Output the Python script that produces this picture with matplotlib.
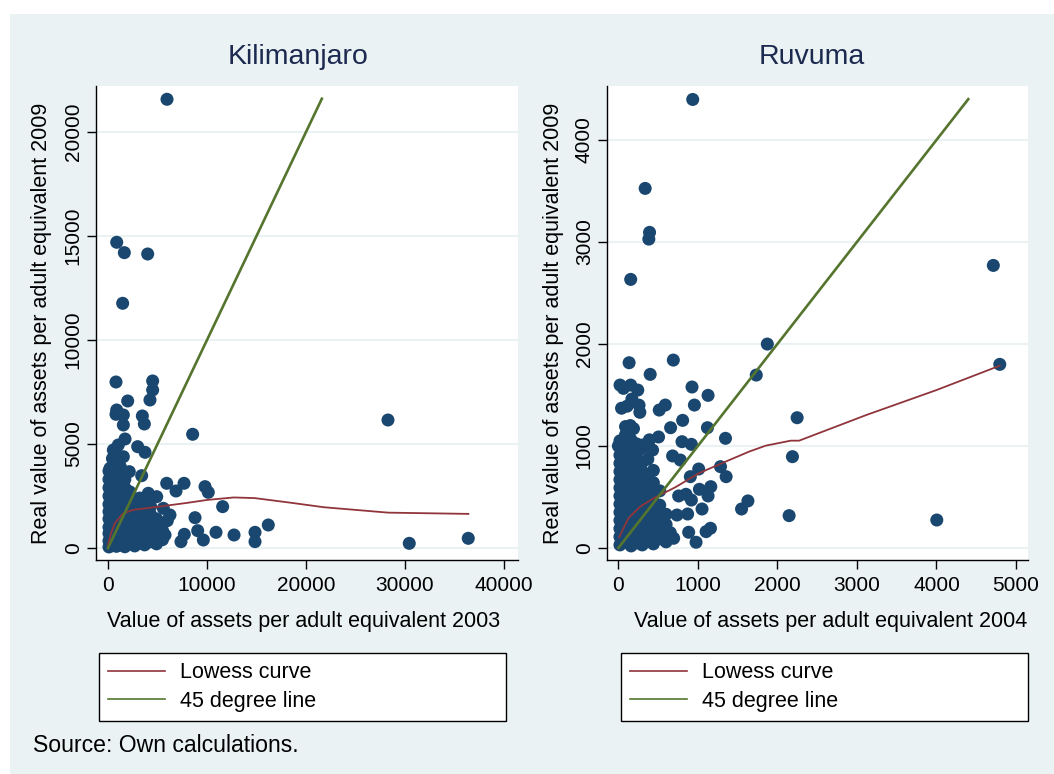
import matplotlib
matplotlib.use("Agg")
import matplotlib.pyplot as plt
from matplotlib.patches import Rectangle
from matplotlib.lines import Line2D

plt.rcParams['font.family'] = ['Liberation Sans', 'DejaVu Sans']

NAVY = '#1a476f'
MAROON = '#90353b'
GREEN = '#55752f'
BG = '#eaf2f3'

# ---------------- Kilimanjaro: assets 2003 vs 2009 ----------------
kil_x = [
    # scattered households
    5960, 880, 1650, 4010, 1480, 808, 4510, 4510, 4240, 1990, 880, 808, 1550, 1550,
    3470, 3670, 8550, 1720, 28280, 3000, 3740, 540, 1040, 1550, 200, 2150, 3400,
    5930, 7680, 6870, 9800, 10130, 4070, 4920, 11580, 5590, 6260, 5990, 8790, 9060,
    7710, 7370, 9630, 10910, 12730, 14850, 14850, 16190, 30430, 36390, 5760,
    # dense cluster near the origin
    100, 100, 100, 100, 100, 100, 100, 100, 100, 100, 100,
    450, 450, 450, 450, 450, 450, 450, 450, 450, 450, 450, 450,
    850, 850, 850, 850, 850, 850, 850, 850, 850, 850, 850, 850,
    1250, 1250, 1250, 1250, 1250, 1250, 1250, 1250, 1250, 1250,
    1700, 1700, 1700, 1700, 1700, 1700, 1700, 1700, 1700,
    2200, 2200, 2200, 2200, 2200, 2200, 2200,
    2700, 2700, 2700, 2700, 2700, 2700,
    3200, 3200, 3200, 3200, 3200, 3200,
    3700, 3700, 3700, 3700, 3700, 3700,
    4300, 4300, 4300, 4300, 4300,
    4900, 4900, 4900, 4900,
    5500, 5500,
    650, 650, 650, 650, 650, 1050, 1050, 1050, 1050, 1500, 1500, 1500, 1500,
    1950, 1950, 1950, 2450, 2450, 2450, 2950, 2950, 3450, 3450, 3450, 4000, 4600, 4600, 5200,
]
kil_y = [
    21573, 14698, 14200, 14136, 11765, 7981, 8030, 7597, 7116, 7068, 6635, 6428, 6395, 5914,
    6347, 5962, 5467, 5241, 6154, 4872, 4600, 4712, 4952, 4390, 3832, 3670, 3477,
    3110, 3110, 2740, 2950, 2677, 2630, 2467, 1988, 1907, 1587, 1314, 1458, 833,
    657, 305, 385, 754, 625, 754, 305, 1106, 224, 465, 625,
    50, 350, 700, 1000, 1400, 1750, 2100, 2500, 2900, 3300, 3700,
    120, 400, 800, 1150, 1500, 1900, 2300, 2700, 3100, 3500, 3900, 4300,
    80, 450, 850, 1250, 1600, 2000, 2400, 2800, 3200, 3600, 4100, 4500,
    150, 500, 900, 1300, 1700, 2100, 2600, 3000, 3400, 3900,
    60, 420, 780, 1200, 1650, 2050, 2500, 2900, 3300,
    200, 550, 950, 1400, 1800, 2250, 2700,
    100, 480, 900, 1300, 1750, 2200,
    250, 650, 1050, 1500, 2000, 2400,
    150, 550, 950, 1400, 1850, 2300,
    300, 700, 1100, 1600, 2000,
    200, 600, 1000, 1400,
    400, 850,
    250, 1000, 1800, 2600, 3400, 650, 1450, 2250, 3050, 250, 1000, 1850, 2700,
    800, 1600, 2400, 350, 1150, 1950, 700, 1500, 400, 1200, 2000, 900, 500, 1300, 700,
]
kil_lowess_x = [0, 300, 700, 1500, 2500, 5000, 8000, 10000, 12700, 14800, 18400, 21800, 28300, 36400]
kil_lowess_y = [150, 700, 1200, 1650, 1830, 1980, 2170, 2310, 2430, 2400, 2180, 1960, 1700, 1640]
kil_diag = [0, 21600]

# ---------------- Ruvuma: assets 2004 vs 2009 ----------------
ruv_x = [
    935, 337, 392, 383, 155, 4715, 1873, 4796, 135, 691, 400, 1734, 2248, 2189, 2147,
    4004, 1629, 1549, 1347, 1355, 1284, 1128, 926, 956, 590, 514, 808, 657, 1120, 800,
    918, 682, 779, 1010, 905, 1162, 1019, 1128, 850, 758, 918, 1052, 737, 871, 884,
    977, 1103, 1158, 653, 695,
    21, 155, 244, 63, 170, 260, 270, 40, 110, 150, 130, 190, 505, 390, 310, 430, 30, 0,
    # dense cluster near the origin
    20, 20, 20, 20, 20, 20, 20, 20, 20, 20, 20, 20, 20, 20,
    90, 90, 90, 90, 90, 90, 90, 90, 90, 90, 90, 90, 90, 90, 90,
    160, 160, 160, 160, 160, 160, 160, 160, 160, 160, 160, 160, 160, 160,
    230, 230, 230, 230, 230, 230, 230, 230, 230, 230, 230, 230, 230,
    300, 300, 300, 300, 300, 300, 300, 300, 300, 300, 300, 300,
    370, 370, 370, 370, 370, 370, 370, 370, 370, 370,
    440, 440, 440, 440, 440, 440, 440, 440, 440,
    520, 520, 520, 520, 520, 520,
    600, 600, 600, 600,
]
ruv_y = [
    4397, 3525, 3094, 3028, 2633, 2770, 1999, 1800, 1816, 1842, 1702, 1695, 1277, 895, 317,
    274, 461, 382, 1075, 699, 797, 1496, 1578, 1401, 1401, 1352, 1251, 1179, 1179, 1042,
    1016, 902, 862, 774, 699, 601, 575, 510, 526, 510, 470, 382, 323, 333, 154,
    56, 160, 193, 150, 95,
    1597, 1597, 1548, 1565, 1460, 1400, 1330, 1370, 1390, 1200, 1170, 1170, 1088, 1060, 1010, 960, 1040, 1000,
    30, 110, 190, 270, 350, 430, 510, 590, 670, 750, 830, 910, 990, 1050,
    60, 140, 220, 300, 380, 460, 540, 620, 700, 780, 860, 940, 1020, 1110, 1190,
    20, 100, 180, 260, 340, 420, 500, 580, 660, 740, 820, 900, 980, 1060,
    50, 130, 210, 290, 370, 450, 530, 610, 690, 770, 850, 930, 1020,
    30, 110, 190, 270, 350, 430, 510, 590, 670, 750, 840, 980,
    70, 150, 230, 310, 390, 470, 550, 630, 720, 870,
    40, 120, 200, 280, 360, 450, 540, 640, 760,
    90, 170, 250, 330, 420, 560,
    60, 140, 230, 330,
]
ruv_lowess_x = [9, 126, 274, 442, 716, 1010, 1347, 1642, 1853, 2168, 2273, 3116, 4000, 4796]
ruv_lowess_y = [105, 291, 405, 487, 595, 732, 846, 944, 1003, 1052, 1052, 1303, 1548, 1787]
ruv_diag = [0, 4400]

panels = [
    dict(title="Kilimanjaro", x=kil_x, y=kil_y, lx=kil_lowess_x, ly=kil_lowess_y, d=kil_diag,
         xlim=(-1212, 41414), ylim=(-577, 22212), xticks=[0, 10000, 20000, 30000, 40000],
         yticks=[0, 5000, 10000, 15000, 20000],
         xlabel="Value of assets per adult equivalent 2003", rect=(96, 422), title_x=298,
         xlab_x=0.493, leg=(99, 407)),
    dict(title="Ruvuma", x=ruv_x, y=ruv_y, lx=ruv_lowess_x, ly=ruv_lowess_y, d=ruv_diag,
         xlim=(-143, 5151), ylim=(-118, 4529), xticks=[0, 1000, 2000, 3000, 4000, 5000],
         yticks=[0, 1000, 2000, 3000, 4000],
         xlabel="Value of assets per adult equivalent 2004", rect=(607, 421), title_x=812,
         xlab_x=0.530, leg=(621, 407)),
]

W, H = 1054, 774
fig = plt.figure(figsize=(W / 100, H / 100), dpi=100, facecolor='white')
fig.patches.append(Rectangle((10 / W, 0), 1 - 10 / W, 1 - 14 / H, transform=fig.transFigure,
                             facecolor=BG, edgecolor='none', zorder=-10))

for p in panels:
    left, width = p['rect']
    ax = fig.add_axes([left / W, 1 - 560 / H, width / W, 474 / H])
    ax.set_facecolor('white')
    ax.scatter(p['x'], p['y'], s=88, color=NAVY, edgecolors='none', zorder=2)
    ax.plot(p['lx'], p['ly'], color=MAROON, lw=1.3, zorder=3)
    ax.plot(p['d'], p['d'], color=GREEN, lw=1.9, zorder=4)
    ax.set_xlim(p['xlim'])
    ax.set_ylim(p['ylim'])
    ax.set_xticks(p['xticks'])
    ax.set_yticks(p['yticks'])
    ax.yaxis.grid(True, color=BG, lw=1.5)
    ax.set_axisbelow(True)
    for s in ['top', 'right']:
        ax.spines[s].set_visible(False)
    for s in ['left', 'bottom']:
        ax.spines[s].set_color('black')
        ax.spines[s].set_linewidth(1.0)
    ax.tick_params(axis='both', length=6.5, width=1.0, labelsize=15, color='black')
    ax.tick_params(axis='x', pad=5)
    ax.tick_params(axis='y', pad=3)
    for lab in ax.get_yticklabels():
        lab.set_rotation(90)
        lab.set_va('center')
    ax.set_xlabel(p['xlabel'], fontsize=15.5)
    ax.xaxis.set_label_coords(p['xlab_x'], -62 / 474)
    ax.xaxis.label.set_va('center')
    ax.set_ylabel("Real value of assets per adult equivalent 2009", fontsize=15.5)
    ax.yaxis.set_label_coords(-54 / width, 0.5)
    ax.yaxis.label.set_va('center')

    fig.text(p['title_x'] / W, 1 - 57 / H, p['title'], fontsize=20.5, color='#1c2a50',
             ha='center', va='center')

    lx0, lw_ = p['leg']
    handles = [Line2D([], [], color=MAROON, lw=1.2), Line2D([], [], color=GREEN, lw=1.2)]
    leg = fig.legend(handles, ["Lowess curve", "45 degree line"], loc='center',
                     bbox_to_anchor=(lx0 / W, 1 - 722 / H, lw_ / W, 70 / H), mode='expand',
                     fontsize=15.5, frameon=True, fancybox=False, handlelength=2.65,
                     handletextpad=0.7, labelspacing=0.35, borderpad=0.42, borderaxespad=0)
    leg.get_frame().set_edgecolor('black')
    leg.get_frame().set_linewidth(1.0)
    leg.get_frame().set_facecolor('white')
    leg.get_frame().set_alpha(1)

fig.text(33 / W, 1 - 745 / H, "Source: Own calculations.", fontsize=16.6, ha='left', va='center')

fig.savefig("out.png", dpi=100, facecolor=fig.get_facecolor())
